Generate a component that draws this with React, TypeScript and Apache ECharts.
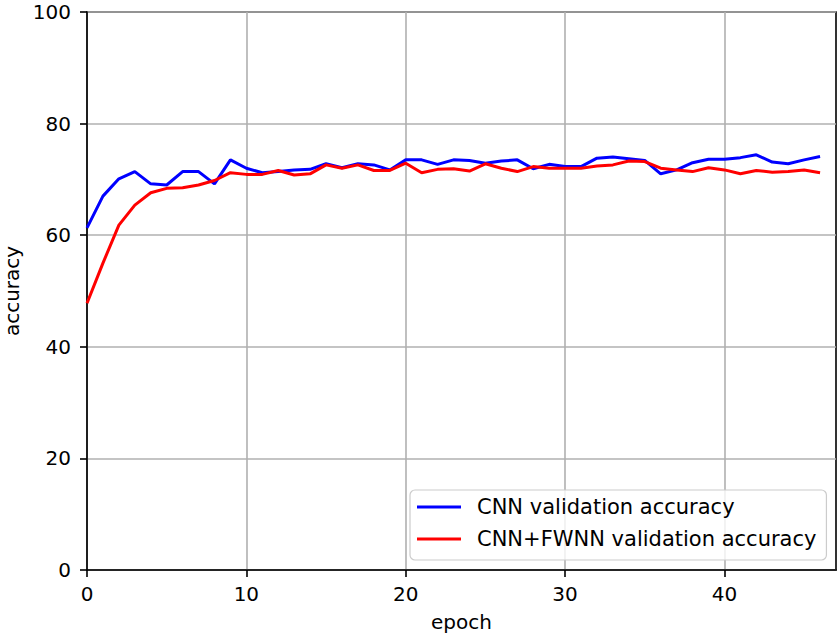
import React, { useEffect, useRef } from "react";
import * as echarts from "echarts";

const epochs = Array.from({ length: 47 }, (_, i) => i);
const cnnAcc = [
  61.3, 67.0, 70.1, 71.4, 69.2, 69.0, 71.4, 71.4, 69.2, 73.5,
  72.0, 71.2, 71.4, 71.7, 71.8, 72.8, 72.1, 72.8, 72.6, 71.7,
  73.5, 73.5, 72.7, 73.5, 73.4, 72.9, 73.3, 73.5, 71.9, 72.7,
  72.3, 72.3, 73.8, 74.0, 73.7, 73.4, 71.0, 71.7, 73.0, 73.6,
  73.6, 73.9, 74.4, 73.1, 72.8, 73.5, 74.1,
];
const fwnnAcc = [
  47.8, 55.0, 61.8, 65.4, 67.6, 68.4, 68.5, 69.0, 69.8, 71.2,
  70.9, 70.9, 71.6, 70.8, 71.0, 72.6, 72.0, 72.6, 71.6, 71.6,
  72.9, 71.2, 71.8, 71.9, 71.5, 72.8, 72.0, 71.4, 72.3, 72.0,
  72.0, 72.0, 72.4, 72.6, 73.3, 73.2, 72.0, 71.7, 71.4, 72.1,
  71.7, 71.0, 71.6, 71.3, 71.4, 71.7, 71.2,
];
const xTicks = [0, 10, 20, 30, 40];
const seriesNames = ["CNN validation accuracy", "CNN+FWNN validation accuracy"];

const FONT = "DejaVu Sans";

export default function App() {
  const ref = useRef<HTMLDivElement>(null);
  useEffect(() => {
    if (!ref.current) return;
    const chart = echarts.init(ref.current, undefined, { renderer: "svg" });
    chart.setOption({
      animation: false,
      backgroundColor: "#ffffff",
      textStyle: { fontFamily: FONT },
      grid: {
        left: 87,
        right: 2,
        top: 12,
        bottom: 64,
        containLabel: false,
        outerBoundsMode: "none",
        show: true,
        borderColor: "#000",
        borderWidth: 1.6,
        backgroundColor: "transparent",
      },
      legend: {
        orient: "vertical",
        left: 410,
        top: 490,
        padding: [5, 10, 9, 7],
        itemWidth: 44,
        itemHeight: 3,
        itemGap: 8,
        icon: "rect",
        backgroundColor: "rgba(255,255,255,0.8)",
        borderColor: "#cccccc",
        borderWidth: 1.2,
        borderRadius: 5,
        textStyle: {
          fontFamily: FONT,
          fontSize: 21,
          color: "#000",
          lineHeight: 24,
          padding: [0, 0, 0, 11],
        },
        data: seriesNames.map((n) => ({ name: n, icon: "rect" })),
      },
      xAxis: {
        type: "value",
        min: 0,
        max: 47,
        interval: 10,
        name: "epoch",
        nameLocation: "middle",
        nameGap: 42,
        nameTextStyle: { fontFamily: FONT, fontSize: 20, color: "#000" },
        axisLine: { show: true, onZero: false, lineStyle: { color: "#000", width: 1.6 } },
        axisTick: {
          show: true,
          length: 7,
          customValues: xTicks,
          lineStyle: { color: "#000", width: 1.6 },
        },
        axisLabel: {
          customValues: xTicks,
          margin: 14,
          fontFamily: FONT,
          fontSize: 20,
          color: "#000",
        },
        splitLine: { show: true, lineStyle: { color: "#b0b0b0", width: 1.6 } },
      },
      yAxis: {
        type: "value",
        min: 0,
        max: 100,
        interval: 20,
        name: "accuracy",
        nameLocation: "middle",
        nameGap: 63,
        nameTextStyle: { fontFamily: FONT, fontSize: 20, color: "#000" },
        axisLine: { show: true, lineStyle: { color: "#000", width: 1.6 } },
        axisTick: { show: true, length: 7, lineStyle: { color: "#000", width: 1.6 } },
        axisLabel: {
          margin: 16,
          fontFamily: FONT,
          fontSize: 20,
          color: "#000",
        },
        splitLine: { show: true, lineStyle: { color: "#b0b0b0", width: 1.6 } },
      },
      series: [
        {
          name: seriesNames[0],
          type: "line",
          data: epochs.map((e, i) => [e, cnnAcc[i]]),
          symbol: "none",
          color: "#0000ff",
          lineStyle: { color: "#0000ff", width: 3 },
          z: 3,
        },
        {
          name: seriesNames[1],
          type: "line",
          data: epochs.map((e, i) => [e, fwnnAcc[i]]),
          symbol: "none",
          color: "#ff0000",
          lineStyle: { color: "#ff0000", width: 3 },
          z: 4,
        },
      ],
    });
    return () => chart.dispose();
  }, []);
  return (
    <div
      ref={ref}
      style={{ position: "fixed", left: 0, top: 0, width: 838, height: 634 }}
    />
  );
}
